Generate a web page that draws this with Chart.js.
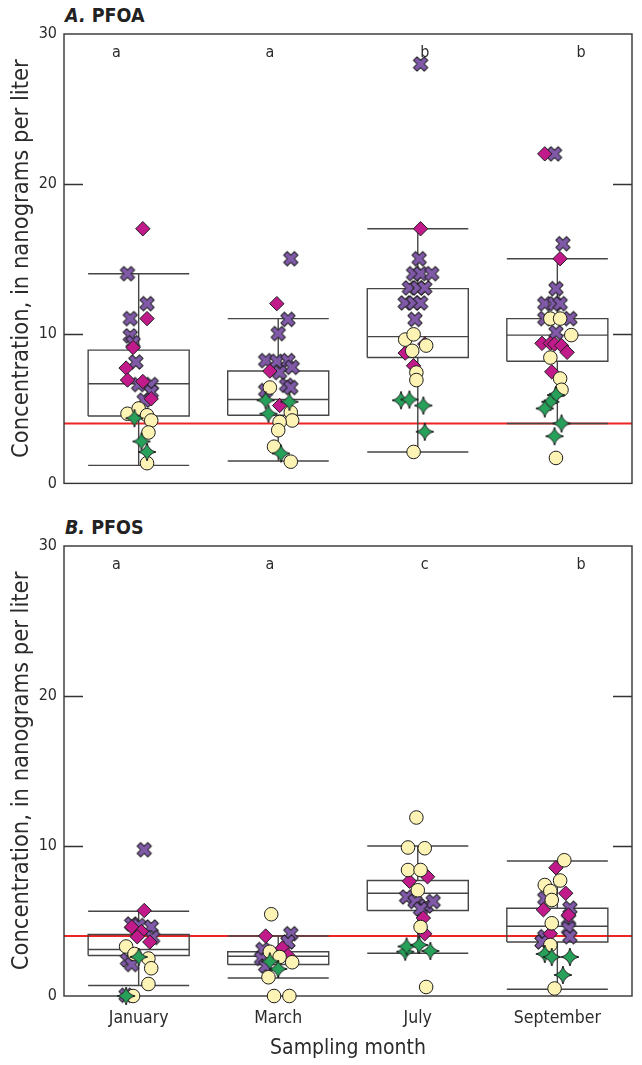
<!DOCTYPE html>
<html>
<head>
<meta charset="utf-8">
<script src="https://cdn.jsdelivr.net/npm/chart.js@4.4.1/dist/chart.umd.min.js"></script>
<style>
  body { margin: 0; background: #fff; }
  #wrap { position: relative; width: 642px; height: 1065px; }
  canvas { position: absolute; left: 0; }
  .ptitle { position: absolute; left: 65px; font-family: 'DejaVu Sans Condensed', 'Liberation Sans Narrow', sans-serif; font-stretch: condensed; font-weight: bold; font-size: 19.5px; color: #222; line-height: 1; }
  .ptitle i { font-style: italic; }
</style>
</head>
<body>
<div id="wrap">
  <div class="ptitle" style="top:6px"><i>A.</i> PFOA</div>
  <canvas id="chartA" width="642" height="500" style="top:0"></canvas>
  <div class="ptitle" style="top:518px"><i>B.</i> PFOS</div>
  <canvas id="chartB" width="642" height="565" style="top:500px"></canvas>
</div>
<script>
// meses de muestreo
const months = ['January', 'March', 'July', 'September'];
const lettersPfoa = ['a', 'a', 'b', 'b'];
const lettersPfos = ['a', 'a', 'c', 'b'];
const yTicks = [0, 10, 20, 30];
const refLevel = 4;

// estadisticos de las cajas (min, q1, mediana, q3, max)
const pfoaMin = [1.2, 1.5, 2.1, 4.0];
const pfoaQ1 = [4.5, 4.55, 8.4, 8.15];
const pfoaMed = [6.65, 5.6, 9.8, 9.9];
const pfoaQ3 = [8.9, 7.5, 13.0, 11.0];
const pfoaMax = [14.0, 11.0, 17.0, 15.0];

const pfosMin = [0.7, 1.2, 2.85, 0.45];
const pfosQ1 = [2.7, 2.1, 5.7, 3.6];
const pfosMed = [3.1, 2.65, 6.85, 4.65];
const pfosQ3 = [4.1, 2.95, 7.7, 5.85];
const pfosMax = [5.65, 4.0, 10.0, 9.0];

// puntos: [mes, desplazamiento horizontal, concentracion]
const pfoaCross = [
  [0, -0.08, 14.0], [0, 0.06, 12.0], [0, -0.06, 11.0], [0, -0.06, 9.85], [0, -0.04, 9.4], [0, -0.02, 8.1],
  [0, 0.0, 6.6], [0, 0.09, 6.6], [0, 0.09, 6.1], [0, 0.04, 5.55],
  [1, 0.09, 15.0], [1, 0.07, 10.95], [1, 0.0, 10.0], [1, -0.09, 8.2], [1, -0.01, 8.15], [1, 0.07, 8.2],
  [1, 0.10, 7.75], [1, 0.01, 7.4], [1, 0.06, 6.55], [1, 0.09, 6.4], [1, -0.09, 6.2],
  [2, 0.02, 28.0], [2, 0.01, 15.0], [2, -0.03, 14.0], [2, 0.02, 14.0], [2, 0.10, 14.0], [2, -0.06, 13.05],
  [2, 0.0, 13.05], [2, 0.05, 13.05], [2, -0.09, 12.05], [2, -0.03, 12.05], [2, 0.02, 12.05], [2, -0.02, 10.95],
  [3, -0.02, 22.0], [3, 0.04, 16.0], [3, -0.01, 13.0], [3, -0.09, 12.0], [3, -0.02, 12.0], [3, 0.02, 12.0],
  [3, -0.09, 11.0], [3, 0.09, 11.0], [3, -0.01, 10.07]
];
const pfoaDiamond = [
  [0, 0.03, 17.0], [0, 0.06, 11.0], [0, -0.04, 9.07], [0, -0.09, 7.7], [0, -0.08, 6.9], [0, 0.03, 6.8], [0, 0.09, 5.65],
  [1, -0.01, 12.0], [1, -0.06, 7.5], [1, 0.01, 5.2],
  [2, 0.02, 17.0], [2, -0.09, 8.7], [2, -0.03, 7.85], [2, 0.05, 9.3],
  [3, -0.09, 22.0], [3, 0.02, 15.0], [3, -0.11, 9.35], [3, -0.05, 9.35], [3, -0.02, 9.3], [3, 0.03, 9.2],
  [3, 0.07, 8.75], [3, -0.04, 7.45]
];
const pfoaCircle = [
  [0, -0.08, 4.65], [0, 0.0, 5.0], [0, 0.06, 4.55], [0, 0.09, 4.2], [0, 0.07, 3.4], [0, 0.06, 1.35],
  [1, -0.06, 6.4], [1, 0.09, 4.75], [1, 0.10, 4.2], [1, 0.01, 4.1], [1, 0.0, 3.55], [1, -0.03, 2.45], [1, 0.09, 1.45],
  [2, -0.09, 9.6], [2, -0.03, 9.95], [2, 0.06, 9.2], [2, -0.04, 8.85], [2, -0.01, 7.4], [2, -0.01, 6.9], [2, -0.03, 2.1],
  [3, -0.05, 11.0], [3, 0.02, 11.0], [3, 0.10, 9.9], [3, -0.05, 8.4], [3, 0.02, 7.0], [3, 0.03, 6.25], [3, -0.01, 1.7]
];
const pfoaStar = [
  [0, -0.03, 4.35], [0, 0.02, 2.8], [0, 0.06, 2.1],
  [1, -0.09, 5.55], [1, 0.08, 5.45], [1, -0.07, 4.65], [1, 0.02, 2.0],
  [2, -0.12, 5.55], [2, -0.06, 5.6], [2, 0.04, 5.2], [2, 0.05, 3.45],
  [3, -0.01, 5.9], [3, -0.05, 5.45], [3, -0.09, 5.0], [3, 0.03, 4.0], [3, -0.02, 3.15]
];

const pfosCross = [
  [0, 0.04, 9.75], [0, -0.05, 4.8], [0, 0.09, 4.6], [0, 0.0, 4.7], [0, 0.10, 3.9], [0, -0.08, 2.4],
  [0, -0.05, 2.1], [0, -0.09, 0.05],
  [1, 0.09, 4.15], [1, 0.07, 3.6], [1, -0.11, 3.1], [1, -0.12, 2.5], [1, -0.09, 2.0],
  [2, -0.08, 6.6], [2, -0.02, 6.3], [2, 0.06, 6.0], [2, 0.11, 6.3], [2, 0.02, 5.8],
  [3, -0.09, 6.5], [3, 0.09, 5.85], [3, 0.08, 5.1], [3, 0.08, 4.5], [3, 0.09, 3.95], [3, -0.09, 3.95], [3, -0.11, 3.6]
];
const pfosDiamond = [
  [0, 0.04, 5.7], [0, -0.05, 4.6], [0, 0.02, 4.3], [0, -0.01, 3.95], [0, 0.08, 3.6],
  [1, -0.09, 4.0], [1, 0.03, 3.2], [1, 0.07, 2.7],
  [2, -0.06, 7.65], [2, 0.07, 7.95], [2, 0.04, 5.2], [2, 0.05, 4.15],
  [3, -0.01, 8.55], [3, 0.06, 6.85], [3, -0.10, 5.75], [3, 0.08, 5.4], [3, -0.05, 4.15]
];
const pfosCircle = [
  [0, -0.09, 3.3], [0, -0.03, 2.8], [0, 0.07, 2.5], [0, 0.09, 1.85], [0, 0.07, 0.8], [0, -0.04, 0.0],
  [1, -0.05, 5.45], [1, -0.06, 2.95], [1, 0.01, 2.6], [1, 0.10, 2.25], [1, -0.07, 1.25], [1, -0.03, 0.0], [1, 0.08, 0.0],
  [2, -0.01, 11.9], [2, -0.07, 9.9], [2, 0.05, 9.85], [2, -0.07, 8.4], [2, 0.02, 8.4], [2, 0.0, 7.05],
  [2, 0.02, 4.6], [2, 0.06, 0.6],
  [3, 0.05, 9.05], [3, 0.02, 7.7], [3, -0.09, 7.4], [3, -0.05, 7.0], [3, -0.04, 6.4], [3, -0.04, 4.85],
  [3, -0.05, 3.4], [3, -0.02, 0.5]
];
const pfosStar = [
  [0, 0.0, 2.6], [0, -0.09, 0.0],
  [1, 0.0, 1.8], [1, -0.06, 2.3],
  [2, -0.09, 2.95], [2, -0.08, 3.3], [2, 0.01, 3.4], [2, 0.09, 3.0],
  [3, -0.09, 2.8], [3, -0.04, 2.6], [3, 0.09, 2.6], [3, 0.04, 1.4]
];

const FONT = "'DejaVu Sans Condensed', 'Liberation Sans Narrow', sans-serif";
const INK = '#2b2b2b';
const BOX_HALF = 0.362;

// simbolo de cruz rellena
function crossImage(fill) {
  const c = document.createElement('canvas');
  c.width = 18; c.height = 18;
  const g = c.getContext('2d');
  g.translate(9, 9);
  g.rotate(Math.PI / 4);
  const L = 7.6, w = 2.5;
  const pts = [[w, L], [w, w], [L, w], [L, -w], [w, -w], [w, -L], [-w, -L], [-w, -w], [-L, -w], [-L, w], [-w, w], [-w, L]];
  g.beginPath();
  pts.forEach((p, i) => i ? g.lineTo(p[0], p[1]) : g.moveTo(p[0], p[1]));
  g.closePath();
  g.fillStyle = fill; g.fill();
  g.lineJoin = 'round'; g.lineWidth = 1; g.strokeStyle = '#1e1e1e'; g.stroke();
  return c;
}

// estrella de cuatro puntas
function starImage(fill) {
  const c = document.createElement('canvas');
  c.width = 22; c.height = 22;
  const g = c.getContext('2d');
  g.translate(11, 11);
  const R = 9, k = 1.6;
  g.beginPath();
  g.moveTo(0, -R);
  g.quadraticCurveTo(k, -k, R, 0);
  g.quadraticCurveTo(k, k, 0, R);
  g.quadraticCurveTo(-k, k, -R, 0);
  g.quadraticCurveTo(-k, -k, 0, -R);
  g.closePath();
  g.fillStyle = fill; g.fill();
  g.lineWidth = 1; g.strokeStyle = '#1e1e1e'; g.stroke();
  return c;
}

const crossImg = crossImage('#8059a8');
const starImg = starImage('#27a05a');

function toXY(list) {
  return list.map(p => ({ x: p[0] + p[1], y: p[2] }));
}

function boxSegments(mn, q1, md, q3, mx) {
  const out = [];
  const gap = { x: NaN, y: null };
  for (let i = 0; i < mn.length; i++) {
    const a = i - BOX_HALF, b = i + BOX_HALF;
    out.push({ x: a, y: q1[i] }, { x: b, y: q1[i] }, { x: b, y: q3[i] }, { x: a, y: q3[i] }, { x: a, y: q1[i] }, gap);
    out.push({ x: a, y: md[i] }, { x: b, y: md[i] }, gap);
    out.push({ x: i, y: q3[i] }, { x: i, y: mx[i] }, gap);
    out.push({ x: i, y: q1[i] }, { x: i, y: mn[i] }, gap);
    out.push({ x: a, y: mx[i] }, { x: b, y: mx[i] }, gap);
    out.push({ x: a, y: mn[i] }, { x: b, y: mn[i] }, gap);
  }
  return out;
}

// marco, marcas interiores, linea de referencia y letras
const panelDecor = {
  id: 'panelDecor',
  beforeDatasetsDraw(chart, args, opts) {
    const { ctx, chartArea: a, scales: { x, y } } = chart;
    ctx.save();
    const yr = y.getPixelForValue(opts.ref);
    ctx.strokeStyle = '#ec2424';
    ctx.lineWidth = 2;
    ctx.beginPath(); ctx.moveTo(a.left, yr); ctx.lineTo(a.right, yr); ctx.stroke();

    ctx.strokeStyle = '#333';
    ctx.lineWidth = 1.4;
    ctx.strokeRect(a.left, a.top, a.right - a.left, a.bottom - a.top);
    ctx.beginPath();
    yTicks.forEach(v => {
      if (v <= 0 || v >= 30) return;
      const py = Math.round(y.getPixelForValue(v)) + 0.5;
      ctx.moveTo(a.left, py); ctx.lineTo(a.left + 19, py);
      ctx.moveTo(a.right, py); ctx.lineTo(a.right - 19, py);
    });
    ctx.stroke();

    ctx.fillStyle = INK;
    ctx.font = '16px ' + FONT;
    ctx.textAlign = 'center';
    ctx.textBaseline = 'middle';
    opts.letters.forEach((s, i) => {
      ctx.fillText(s, x.getPixelForValue(opts.letterX[i]), y.getPixelForValue(28.75));
    });
    ctx.restore();
  }
};

function makePanel(id, pts, stats, letters, withX, pad) {
  const datasets = [
    { label: 'star', data: toXY(pts.star), pointStyle: starImg, pointRadius: 9, order: 1, clip: false },
    { label: 'circle', data: toXY(pts.circle), pointStyle: 'circle', pointRadius: 6.8,
      backgroundColor: '#fcf3b4', borderColor: '#1e1e1e', borderWidth: 1, order: 2, clip: false },
    { label: 'diamond', data: toXY(pts.diamond), pointStyle: 'rectRot', pointRadius: 7.2,
      backgroundColor: '#c11a8b', borderColor: '#1e1e1e', borderWidth: 1, order: 3, clip: false },
    { label: 'cross', data: toXY(pts.cross), pointStyle: crossImg, pointRadius: 8, order: 4, clip: false },
    { type: 'line', label: 'box', data: boxSegments.apply(null, stats), borderColor: '#454545', borderWidth: 1.4,
      pointRadius: 0, spanGaps: false, tension: 0, fill: false, order: 5 }
  ];
  return new Chart(document.getElementById(id), {
    type: 'scatter',
    data: { datasets: datasets },
    options: {
      responsive: false,
      animation: false,
      events: [],
      layout: { padding: pad },
      plugins: {
        legend: { display: false },
        tooltip: { enabled: false },
        panelDecor: { ref: refLevel, letters: letters, letterX: [-0.16, 0.94, 2.05, 3.17] }
      },
      scales: {
        x: {
          type: 'linear', min: -0.535, max: 3.535,
          display: withX,
          grid: { display: false, drawTicks: false, tickLength: 0 },
          border: { display: false },
          afterBuildTicks: s => { s.ticks = months.map((m, i) => ({ value: i })); },
          afterFit: s => { if (withX) s.height = 69; },
          ticks: { padding: 12, color: INK, font: { family: FONT, size: 17.5 }, callback: v => months[v] },
          title: { display: true, text: 'Sampling month', color: INK, padding: { top: 4, bottom: 4 },
            font: { family: FONT, size: 21 } }
        },
        y: {
          min: 0, max: 30,
          grid: { display: false, drawTicks: false, tickLength: 0 },
          border: { display: false },
          afterBuildTicks: s => { s.ticks = yTicks.map(v => ({ value: v })); },
          afterFit: s => { s.width = 64; },
          ticks: { padding: 7, color: INK, font: { family: FONT, size: 16 } },
          title: { display: true, text: 'Concentration, in nanograms per liter', color: INK,
            padding: { top: 8, bottom: 0 }, font: { family: FONT, size: 23.5 } }
        }
      }
    },
    plugins: [panelDecor]
  });
}

makePanel('chartA',
  { cross: pfoaCross, diamond: pfoaDiamond, circle: pfoaCircle, star: pfoaStar },
  [pfoaMin, pfoaQ1, pfoaMed, pfoaQ3, pfoaMax], lettersPfoa, false,
  { left: 0, right: 4, top: 34, bottom: 13 });

makePanel('chartB',
  { cross: pfosCross, diamond: pfosDiamond, circle: pfosCircle, star: pfosStar },
  [pfosMin, pfosQ1, pfosMed, pfosQ3, pfosMax], lettersPfos, true,
  { left: 0, right: 4, top: 46, bottom: 0 });
</script>
</body>
</html>
